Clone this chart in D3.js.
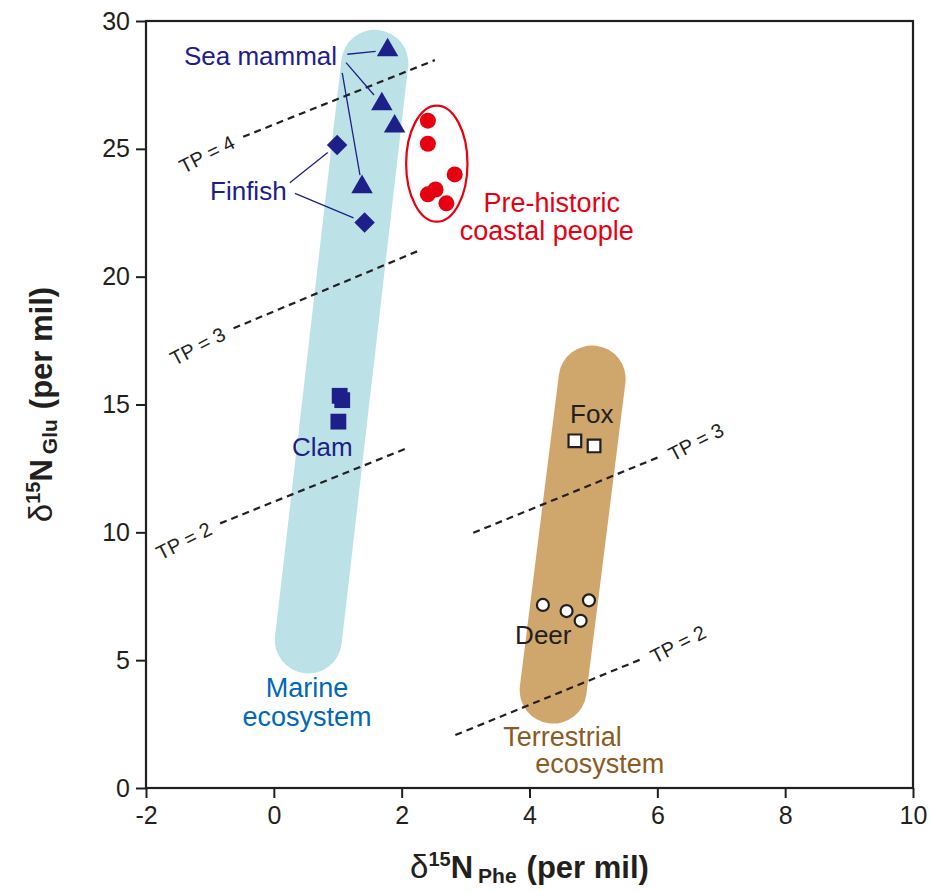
<!DOCTYPE html>
<html>
<head>
<meta charset="utf-8">
<script src="https://cdn.jsdelivr.net/npm/d3@7"></script>
<style>
  body { margin: 0; background: #fff; }
  text { font-family: "Liberation Sans", Arial, Helvetica, sans-serif; }
</style>
</head>
<body>
<svg id="chart" width="930" height="893"></svg>
<script>
// δ15N of phenylalanine (x) and glutamic acid (y), per mil
const seaMammal = [[1.78, 28.86], [1.69, 26.75], [1.89, 25.88], [1.38, 23.51]];
const finfish   = [[0.99, 25.15], [1.42, 22.12]];
const clam      = [[1.03, 15.34], [1.07, 15.17], [1.01, 14.33]];
const people    = [[2.41, 26.10], [2.41, 25.20], [2.83, 24.00], [2.53, 23.41], [2.41, 23.22], [2.70, 22.87]];
const fox       = [[4.71, 13.58], [5.01, 13.38]];
const deer      = [[4.21, 7.16], [4.58, 6.92], [4.93, 7.34], [4.80, 6.54]];

// ecosystem ranges: centre line of each band (top end, bottom end)
const marineBand      = [[1.58, 28.35], [0.54, 5.79]];
const terrestrialBand = [[4.98, 16.00], [4.37, 3.83]];

// range of the archaeological human samples (centre and half-widths)
const peopleRange = { cx: 2.55, cy: 24.42, rx: 0.48, ry: 2.27 };

// trophic-position isolines
const tpMarine = [
  { tp: 4, x: [-0.48, 2.52], y: [25.47, 28.47] },
  { tp: 3, x: [-0.63, 2.29], y: [17.98, 21.04] },
  { tp: 2, x: [-0.84, 2.08], y: [10.35, 13.29] }
];
const tpTerrestrial = [
  { tp: 3, x: [3.12, 6.04], y: [9.98, 12.96] },
  { tp: 2, x: [2.84, 5.76], y: [2.07, 5.05] }
];

// leader lines from group names to their points
const leaders = [
  { from: [1.15, 28.70], to: seaMammal[0] },
  { from: [1.13, 28.37], to: seaMammal[1] },
  { from: [1.07, 27.97], to: seaMammal[3] },
  { from: [0.25, 23.67], to: finfish[0] },
  { from: [0.33, 23.26], to: finfish[1] }
];

// group names (data coordinates of the text baseline)
const labels = [
  { text: "Sea mammal",     x: 0.99, y: 28.28, anchor: "end",    group: "marine" },
  { text: "Finfish",        x: 0.20, y: 23.00, anchor: "end",    group: "marine" },
  { text: "Clam",           x: 0.76, y: 12.98, anchor: "middle", group: "marine" },
  { text: "Pre-historic",   x: 4.35, y: 22.52, anchor: "middle", group: "human" },
  { text: "coastal people", x: 4.27, y: 21.42, anchor: "middle", group: "human" },
  { text: "Marine",         x: 0.52, y: 3.55,  anchor: "middle", group: "sea" },
  { text: "ecosystem",      x: 0.52, y: 2.44,  anchor: "middle", group: "sea" },
  { text: "Terrestrial",    x: 3.59, y: 1.64,  anchor: "start",  group: "land" },
  { text: "ecosystem",      x: 4.09, y: 0.57,  anchor: "start",  group: "land" },
  { text: "Fox",            x: 4.635, y: 14.29, anchor: "start", group: "ink" },
  { text: "Deer",           x: 3.775, y: 5.63,  anchor: "start", group: "ink" }
];

const xTicks = [-2, 0, 2, 4, 6, 8, 10];
const yTicks = [0, 5, 10, 15, 20, 25, 30];

// ---- drawing ----
const ink = "#231f20", navy = "#1d2088", red = "#e60012";
const textColor = { marine: navy, human: red, sea: "#0068b7", land: "#8c5a22", ink: ink };
const textSize = { marine: 26, human: 27, sea: 27, land: 27, ink: 26 };

const x = d3.scaleLinear().domain([-2, 10]).range([146, 913]);
const y = d3.scaleLinear().domain([0, 30]).range([788, 21]);
const svg = d3.select("#chart");

// ecosystem bands
function band(pts, color) {
  svg.append("line")
    .attr("x1", x(pts[0][0])).attr("y1", y(pts[0][1]))
    .attr("x2", x(pts[1][0])).attr("y2", y(pts[1][1]))
    .attr("stroke", color).attr("stroke-width", 67)
    .attr("stroke-linecap", "round");
}
band(marineBand, "#bce2e8");
band(terrestrialBand, "#cfa66b");

// TP isolines with rotated labels
function tpLine(d, labelAtStart) {
  const x1 = x(d.x[0]), y1 = y(d.y[0]), x2 = x(d.x[1]), y2 = y(d.y[1]);
  svg.append("line")
    .attr("x1", x1).attr("y1", y1).attr("x2", x2).attr("y2", y2)
    .attr("stroke", ink).attr("stroke-width", 2.2)
    .attr("stroke-dasharray", "7,5");
  const len = Math.hypot(x2 - x1, y2 - y1), ux = (x2 - x1) / len, uy = (y2 - y1) / len;
  const ang = Math.atan2(uy, ux) * 180 / Math.PI - 5;
  const gap = 39;
  const cx = labelAtStart ? x1 - ux * gap : x2 + ux * gap;
  const cy = labelAtStart ? y1 - uy * gap + 3 : y2 + uy * gap;
  svg.append("text")
    .attr("transform", `translate(${cx},${cy}) rotate(${ang})`)
    .attr("text-anchor", "middle").attr("dominant-baseline", "central")
    .attr("font-size", 20).attr("fill", ink)
    .text(`TP = ${d.tp}`);
}
tpMarine.forEach(d => tpLine(d, true));
tpTerrestrial.forEach(d => tpLine(d, false));

// human range ellipse
svg.append("ellipse")
  .attr("cx", x(peopleRange.cx)).attr("cy", y(peopleRange.cy))
  .attr("rx", x(peopleRange.cx + peopleRange.rx) - x(peopleRange.cx))
  .attr("ry", y(peopleRange.cy - peopleRange.ry) - y(peopleRange.cy))
  .attr("fill", "none").attr("stroke", red).attr("stroke-width", 2.2);

// leader lines (stop short of the marker)
leaders.forEach(d => {
  const x1 = x(d.from[0]), y1 = y(d.from[1]), x2 = x(d.to[0]), y2 = y(d.to[1]);
  const len = Math.hypot(x2 - x1, y2 - y1), k = (len - 12) / len;
  svg.append("line")
    .attr("x1", x1).attr("y1", y1)
    .attr("x2", x1 + (x2 - x1) * k).attr("y2", y1 + (y2 - y1) * k)
    .attr("stroke", navy).attr("stroke-width", 1.3);
});

// markers
function symbols(data, type, size, rot, fill, stroke) {
  svg.append("g").selectAll("path").data(data).join("path")
    .attr("d", d3.symbol(type, size)())
    .attr("transform", d => `translate(${x(d[0])},${y(d[1])}) rotate(${rot})`)
    .attr("fill", fill)
    .attr("stroke", stroke || "none").attr("stroke-width", stroke ? 2.2 : 0);
}
symbols(seaMammal, d3.symbolTriangle, 200, 0, navy);
symbols(finfish, d3.symbolSquare, 210, 45, navy);
symbols(clam, d3.symbolSquare, 250, 0, navy);
symbols(fox, d3.symbolSquare, 160, 0, "#fff", ink);

svg.append("g").selectAll("circle").data(people).join("circle")
  .attr("cx", d => x(d[0])).attr("cy", d => y(d[1])).attr("r", 8).attr("fill", red);
svg.append("g").selectAll("circle").data(deer).join("circle")
  .attr("cx", d => x(d[0])).attr("cy", d => y(d[1])).attr("r", 6)
  .attr("fill", "#fff").attr("stroke", ink).attr("stroke-width", 2.2);

// group names
svg.append("g").selectAll("text").data(labels).join("text")
  .attr("x", d => x(d.x)).attr("y", d => y(d.y))
  .attr("text-anchor", d => d.anchor)
  .attr("font-size", d => textSize[d.group])
  .attr("fill", d => textColor[d.group])
  .text(d => d.text);

// axes
const fmt = d => String(d);
const xAxis = svg.append("g").attr("transform", "translate(0,788)")
  .call(d3.axisBottom(x).tickValues(xTicks).tickFormat(fmt).tickSize(10).tickSizeOuter(0).tickPadding(8));
const yAxis = svg.append("g").attr("transform", "translate(146,0)")
  .call(d3.axisLeft(y).tickValues(yTicks).tickFormat(fmt).tickSize(10).tickSizeOuter(0).tickPadding(6));
[xAxis, yAxis].forEach(a => {
  a.select(".domain").remove();
  a.selectAll(".tick line").attr("stroke", ink).attr("stroke-width", 2);
  a.selectAll(".tick text").attr("fill", ink).attr("font-size", 25)
    .attr("font-family", "'Liberation Sans', Arial, sans-serif");
});

// plot frame
svg.append("rect")
  .attr("x", x(-2)).attr("y", y(30))
  .attr("width", x(10) - x(-2)).attr("height", y(0) - y(30))
  .attr("fill", "none").attr("stroke", ink).attr("stroke-width", 2.2);

// axis titles
function axisTitle(g, sub) {
  g.attr("font-weight", "bold").attr("fill", ink).attr("font-size", 31);
  g.append("tspan").attr("font-weight", "normal").attr("font-size", 33).text("δ");
  g.append("tspan").attr("font-size", 20).attr("dy", -12).text("15");
  g.append("tspan").attr("dy", 12).text("N");
  g.append("tspan").attr("font-size", 21).attr("dy", 5).attr("dx", 5).text(sub);
  g.append("tspan").attr("dy", -5).attr("dx", 10).text("(per mil)");
}
axisTitle(svg.append("text").attr("x", x(4)).attr("y", 878).attr("text-anchor", "middle"), "Phe");
axisTitle(svg.append("text").attr("text-anchor", "middle")
  .attr("transform", `translate(52,${y(15)}) rotate(-90)`), "Glu");
</script>
</body>
</html>
